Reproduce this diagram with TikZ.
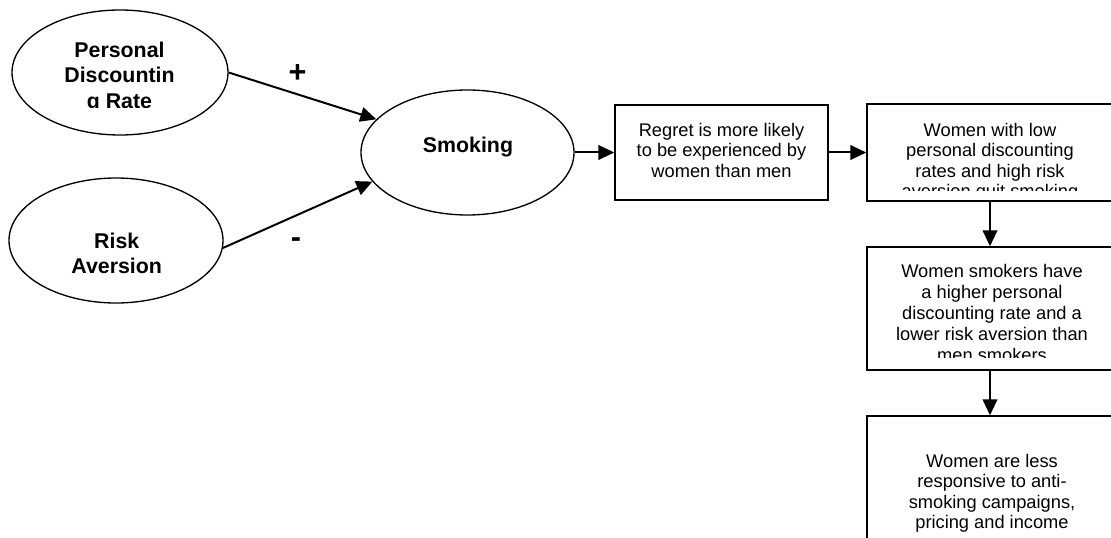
\documentclass[tikz,border=0pt]{standalone}
\usepackage{fontspec}
\setmainfont{Liberation Sans}
\usetikzlibrary{arrows.meta,shapes.geometric}
\begin{document}
\begin{tikzpicture}[x=0.75pt,y=-0.75pt,
  oval/.style={draw, ellipse, line width=1pt, inner sep=0pt},
  boxnode/.style={draw, rectangle, line width=1.1pt, inner sep=0pt},
  ovaltext/.style={font=\fontsize{16}{19.1}\selectfont\bfseries, align=center, inner sep=0pt, anchor=north},
  boxtext/.style={font=\fontsize{13.7}{15.4}\selectfont, align=center, inner sep=0pt, anchor=north},
  sign/.style={font=\fontsize{23}{23}\selectfont\bfseries, inner sep=0pt},
  link/.style={line width=1.5pt, -{Triangle[length=12pt,width=11pt]}}]
\clip (0,0) rectangle (1111,538);
\fill[white] (0,0) rectangle (1111,538);

% ellipses
\node[oval, minimum width=162pt, minimum height=93.75pt] (pdr) at (120,72.5) {};
\node[oval, minimum width=160.5pt, minimum height=93.75pt] (ra) at (116,240.5) {};
\node[oval, minimum width=159.75pt, minimum height=93.75pt] (smk) at (467.5,152.5) {};

% boxes
\node[boxnode, minimum width=159.75pt, minimum height=71.25pt] (b1) at (721.5,152.5) {};
\node[boxnode, minimum width=184.5pt, minimum height=72.75pt] (b2) at (990,152.5) {};
\node[boxnode, minimum width=184.5pt, minimum height=92.25pt] (b3) at (990,308.5) {};
\node[boxnode, minimum width=184.5pt, minimum height=105pt] (b4) at (990,486) {};

% ellipse texts
\begin{scope}
  \clip (0,0) rectangle (300,108);
  \node[ovaltext] (pdrt) at (119.5,41.7) {Personal\\Discountin\\g Rate};
\end{scope}
\node[ovaltext] (rat) at (116.7,232.7) {Risk\\Aversion};
\node[ovaltext] (smkt) at (468,136.7) {Smoking};

% box texts
\node[boxtext] (b1t) at (721.5,122.6) {Regret is more likely\\to be experienced by\\women than men};
\begin{scope}
  \clip (850,100) rectangle (1111,190.7);
  \node[boxtext] (b2t) at (990,122.6) {Women with low\\personal discounting\\rates and high risk\\aversion quit smoking};
\end{scope}
\begin{scope}
  \clip (850,240) rectangle (1111,357.7);
  \node[boxtext, font=\fontsize{13.7}{15.8}\selectfont] (b3t) at (992,263.6) {Women smokers have\\a higher personal\\discounting rate and a\\lower risk aversion than\\men smokers};
\end{scope}
\begin{scope}
  \clip (850,410) rectangle (1111,533.3);
  \node[boxtext] (b4t) at (992,453.6) {Women are less\\responsive to anti-\\smoking campaigns,\\pricing and income};
\end{scope}

% signs
\node[sign] (plus) at (297.5,73.5) {+};
\node[sign] (minus) at (296,242.5) {-};

% connectors
\draw[link] (pdr.east) -- (smk.160);
\draw[link] (ra.-4) -- (smk.197);
\draw[link] (smk.east) -- (b1.west);
\draw[link] (b1.east) -- (b2.west);
\draw[link] (b2.south) -- (b3.north);
\draw[link] (b3.south) -- (b4.north);
\end{tikzpicture}
\end{document}
